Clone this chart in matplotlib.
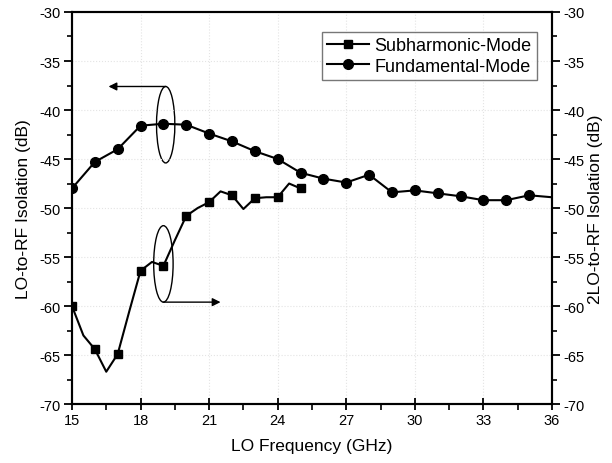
import matplotlib
matplotlib.use("Agg")
import matplotlib.pyplot as plt
from matplotlib.patches import Ellipse
from matplotlib.ticker import MultipleLocator

plt.rcParams['font.family'] = ['Liberation Sans', 'DejaVu Sans']
plt.rcParams['axes.unicode_minus'] = False

# Fundamental-Mode (left axis: LO-to-RF isolation)
fund_freq = [15, 16, 17, 18, 19, 20, 21, 22, 23, 24, 25, 26, 27, 28, 29, 30, 31, 32, 33, 34, 35, 36]
fund_iso = [-48.0, -45.3, -44.0, -41.6, -41.4, -41.5, -42.4, -43.2, -44.2, -45.0, -46.4, -47.0,
            -47.4, -46.6, -48.4, -48.2, -48.5, -48.8, -49.2, -49.2, -48.7, -48.9]

# Subharmonic-Mode (right axis: 2LO-to-RF isolation)
sub_freq = [15, 15.5, 16, 16.5, 17, 17.5, 18, 18.5, 19, 19.5, 20, 20.5, 21, 21.5, 22, 22.5,
            23, 23.5, 24, 24.5, 25]
sub_iso = [-60.0, -63.0, -64.4, -66.7, -64.9, -60.6, -56.4, -55.5, -55.9, -53.3, -50.8, -50.0,
           -49.4, -48.3, -48.7, -50.1, -49.0, -48.9, -48.9, -47.5, -48.0]
sub_marker_freq = [15, 16, 17, 18, 19, 20, 21, 22, 23, 24, 25]

xticks = [15, 18, 21, 24, 27, 30, 33, 36]
yticks = [-30, -35, -40, -45, -50, -55, -60, -65, -70]

fig = plt.figure(figsize=(6.12, 4.64), dpi=100)
ax = fig.add_axes([0.1176, 0.127, 0.7843, 0.845])
ax2 = ax.twinx()

fund_marks = [i for i, f in enumerate(fund_freq) if f <= 35]
sub_marks = [i for i, f in enumerate(sub_freq) if f in sub_marker_freq]

l1, = ax2.plot(sub_freq, sub_iso, color='black', lw=1.5, marker='s', ms=6,
               markevery=sub_marks, label='Subharmonic-Mode')
l2, = ax.plot(fund_freq, fund_iso, color='black', lw=1.5, marker='o', ms=7,
              markevery=fund_marks, label='Fundamental-Mode')

for a in (ax, ax2):
    a.set_xlim(15, 36)
    a.set_ylim(-70, -30)
    a.set_yticks(yticks)
    a.yaxis.set_minor_locator(MultipleLocator(2.5))
    for s in a.spines.values():
        s.set_linewidth(1.5)

ax.set_xticks(xticks)
ax.xaxis.set_minor_locator(MultipleLocator(1.5))
ax.tick_params(axis='x', which='major', direction='inout', length=9, width=1.3, labelsize=10.5, pad=2)
ax.tick_params(axis='x', which='minor', direction='out', length=4, width=1.2)
ax.tick_params(axis='y', which='major', direction='out', length=6, width=1.3, labelsize=10.5, pad=2)
ax.tick_params(axis='y', which='minor', direction='out', length=3.5, width=1.2)
ax2.tick_params(axis='y', which='major', direction='out', length=6, width=1.3, labelsize=10.5, pad=2)
ax2.tick_params(axis='y', which='minor', direction='out', length=3.5, width=1.2)

ax.grid(True, which='major', color='#e4e4e4', linestyle=':', linewidth=0.8)

ax.set_xlabel('LO Frequency (GHz)', fontsize=12.5, labelpad=8)
ax.set_ylabel('LO-to-RF Isolation (dB)', fontsize=12.5, labelpad=6)
ax2.set_ylabel('2LO-to-RF Isolation (dB)', fontsize=12.5, labelpad=3)

# annotations: ellipses and arrows
ax.add_patch(Ellipse((19.1, -41.5), 0.8, 7.8, fill=False, edgecolor='black', lw=1.0))
ax.annotate('', xy=(16.6, -37.6), xytext=(19.1, -37.6),
            arrowprops=dict(arrowstyle='-|>', color='black', lw=1.0, mutation_scale=12,
                            shrinkA=0, shrinkB=0))
ax2.add_patch(Ellipse((19.0, -55.7), 0.85, 7.8, fill=False, edgecolor='black', lw=1.0))
ax2.annotate('', xy=(21.5, -59.6), xytext=(19.0, -59.6),
             arrowprops=dict(arrowstyle='-|>', color='black', lw=1.0, mutation_scale=12,
                             shrinkA=0, shrinkB=0))

leg = ax2.legend(handles=[l1, l2], loc='upper right', bbox_to_anchor=(0.968, 0.95),
                 fontsize=13, frameon=True, fancybox=False, handlelength=2.3,
                 borderpad=0.3, labelspacing=0.2, handletextpad=0.3, borderaxespad=0)
leg.get_frame().set_edgecolor('#555555')
leg.get_frame().set_linewidth(1.0)

fig.savefig('out.png', dpi=100)
